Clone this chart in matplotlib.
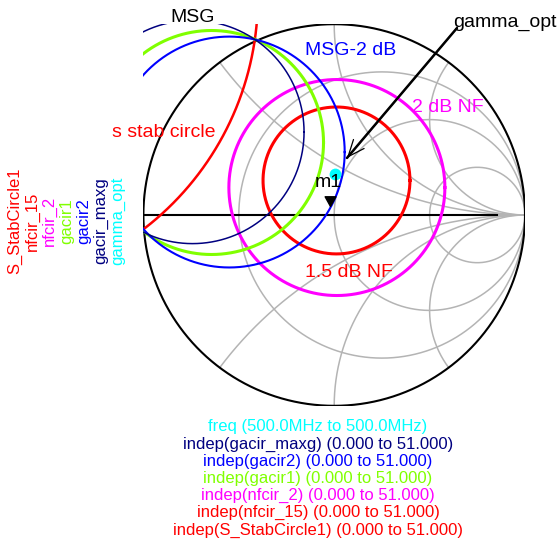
import numpy as np
import matplotlib
matplotlib.use("Agg")
import matplotlib.pyplot as plt
from matplotlib.path import Path

plt.rcParams["font.family"] = ["Liberation Sans", "DejaVu Sans"]

W, H = 560, 544

# Smith chart grid: constant-resistance circles and constant-reactance arcs
r_circles = [1 / 3, 1.0, 3.0]
x_arcs = [0.5, 1.0, 2.0, -0.5, -1.0, -2.0]

# Circle traces in the reflection-coefficient plane (centre, radius)
trace_names = ["S_StabCircle1", "nfcir_15", "nfcir_2", "gacir1", "gacir2", "gacir_maxg"]
trace_colors = ["#ff0000", "#ff0000", "#ff00ff", "#80ff00", "#0000ff", "#000080"]
trace_widths = [1.8, 2.2, 2.2, 2.2, 1.5, 1.1]
center_re = [-1.93, 0.012, 0.014, -0.643, -0.55, -0.743]
center_im = [1.14, 0.181, 0.144, 0.38, 0.33, 0.435]
radius = [1.53, 0.385, 0.566, 0.587, 0.605, 0.585]

gamma_opt = (0.004, 0.215)
m1_point = (-0.022, 0.047)
arrow_tip = (0.067, 0.299)

# Text annotations: (text, x_px, baseline_px, colour)
annotations = [
    ("MSG", 170, 22.5, "black"),
    ("s stab circle", 112, 137, "#ff0000"),
    ("MSG-2 dB", 305, 55, "#0000ff"),
    ("2 dB NF", 412, 112, "#ff00ff"),
    ("1.5 dB NF", 305, 277, "#ff0000"),
    ("gamma_opt", 453, 27, "black"),
]

side_labels = ["S_StabCircle1", "nfcir_15", "nfcir_2", "gacir1", "gacir2", "gacir_maxg", "gamma_opt"]
side_colors = ["#ff0000", "#ff0000", "#ff00ff", "#80ff00", "#0000ff", "#000080", "#00ffff"]

bottom_labels = [
    "freq (500.0MHz to 500.0MHz)",
    "indep(gacir_maxg) (0.000 to 51.000)",
    "indep(gacir2) (0.000 to 51.000)",
    "indep(gacir1) (0.000 to 51.000)",
    "indep(nfcir_2) (0.000 to 51.000)",
    "indep(nfcir_15) (0.000 to 51.000)",
    "indep(S_StabCircle1) (0.000 to 51.000)",
]
bottom_colors = ["#00ffff", "#000080", "#0000ff", "#80ff00", "#ff00ff", "#ff0000", "#ff0000"]


def fpos(x, y):
    """Pixel position (from top-left) to figure fraction."""
    return x / W, 1 - y / H


fig = plt.figure(figsize=(W / 100, H / 100), dpi=100)
fig.patch.set_facecolor("white")

# chart box: reflection coefficient -1..1 in both directions
box_left, box_top, box_size = 143.4, 24.2, 381.6
ax = fig.add_axes([box_left / W, 1 - (box_top + box_size) / H, box_size / W, box_size / H])
ax.set_xlim(-1, 1)
ax.set_ylim(-1, 1)
ax.axis("off")

grid_col = "#b4b4b4"
t = np.linspace(0, 2 * np.pi, 1441)
for r in r_circles:
    c, rad = r / (1 + r), 1 / (1 + r)
    ax.plot(c + rad * np.cos(t), rad * np.sin(t), color=grid_col, lw=1.1, zorder=1)
rr = np.concatenate([[0.0], np.logspace(-3, 4, 800)])
for x in x_arcs:
    g = (rr + 1j * x - 1) / (rr + 1j * x + 1)
    ax.plot(g.real, g.imag, color=grid_col, lw=1.1, zorder=1)
ax.plot([-1, 1], [0, 0], color=grid_col, lw=1.1, zorder=1)
ax.plot([-1, 0.853], [0, 0], color="black", lw=1.5, zorder=2)
ax.plot(np.cos(t), np.sin(t), color="black", lw=1.5, zorder=2)

# circle traces
for cr, ci, rad, col, lw in zip(center_re, center_im, radius, trace_colors, trace_widths):
    ax.plot(cr + rad * np.cos(t), ci + rad * np.sin(t), color=col, lw=lw, zorder=3)

# optimum source reflection coefficient
ax.plot(*gamma_opt, "o", color="#00ffff", markersize=8.5, markeredgewidth=0, zorder=5)

# marker m1: triangle with its tip on the point
tri = Path([(0, 0), (-0.55, 1.0), (0.55, 1.0), (0, 0)], closed=True)
ax.plot(*m1_point, marker=tri, color="black", markersize=14, linestyle="none", zorder=6,
        clip_on=False)
fig.text(*fpos(315, 187), "m1", fontsize=14, color="black", va="baseline", ha="left")

# gamma_opt arrow: thick shaft, thin open head
tail = (457, H - 28)
ax.annotate("", xy=arrow_tip, xycoords="data", xytext=tail, textcoords="figure pixels",
            arrowprops=dict(arrowstyle="-", lw=1.8, color="black", shrinkA=0, shrinkB=0))
ax.annotate("", xy=arrow_tip, xycoords="data", xytext=tail, textcoords="figure pixels",
            arrowprops=dict(arrowstyle="->,head_length=0.6,head_width=0.25", lw=0.9,
                            color="black", shrinkA=0, shrinkB=0, mutation_scale=20))

for txt, x, y, col in annotations:
    fig.text(*fpos(x, y), txt, fontsize=14, color=col, va="baseline", ha="left")

# rotated trace names on the left
for i, (lab, col) in enumerate(zip(side_labels, side_colors)):
    x = 15 + 17.2 * i
    fig.text(*fpos(x, 221), lab, fontsize=12, color=col, rotation=90,
             ha="center", va="center", rotation_mode="anchor")

# sweep ranges under the chart
for i, (lab, col) in enumerate(zip(bottom_labels, bottom_colors)):
    y = 431.5 + 17.17 * i
    fig.text(*fpos(318, y), lab, fontsize=12, color=col, ha="center", va="baseline")

fig.savefig("out.png", dpi=100, facecolor="white")
